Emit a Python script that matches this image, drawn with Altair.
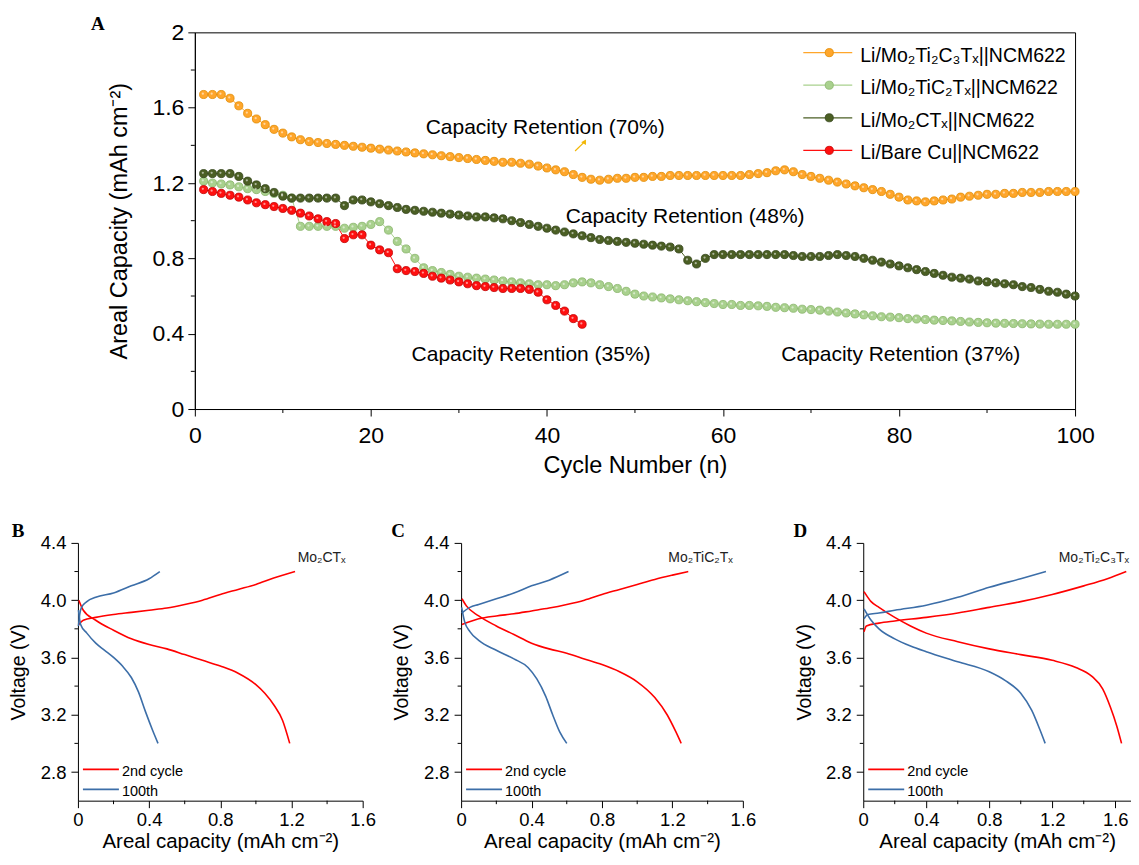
import altair as alt
import pandas as pd

FONT = "Liberation Sans"
SERIF = "Liberation Serif"

# ---------------- Panel A data ----------------
cycles = list(range(1, 101))
cap_mo2ti2c3 = [1.67, 1.67, 1.67, 1.65, 1.61, 1.57, 1.54, 1.51, 1.485, 1.465,
                1.445, 1.43, 1.42, 1.415, 1.41, 1.405, 1.40, 1.395, 1.39, 1.385,
                1.38, 1.375, 1.37, 1.365, 1.36, 1.355, 1.35, 1.345, 1.34, 1.335,
                1.33, 1.325, 1.32, 1.315, 1.31, 1.31, 1.305, 1.30, 1.29, 1.28,
                1.27, 1.26, 1.245, 1.23, 1.22, 1.215, 1.22, 1.225, 1.225, 1.23,
                1.23, 1.235, 1.235, 1.24, 1.24, 1.24, 1.24, 1.24, 1.24, 1.24,
                1.24, 1.24, 1.245, 1.25, 1.255, 1.265, 1.27, 1.26, 1.245, 1.235,
                1.225, 1.215, 1.205, 1.195, 1.185, 1.175, 1.165, 1.155, 1.14, 1.125,
                1.11, 1.105, 1.10, 1.105, 1.11, 1.115, 1.125, 1.13, 1.135, 1.14,
                1.14, 1.145, 1.145, 1.15, 1.15, 1.15, 1.155, 1.155, 1.155, 1.155]
cap_mo2tic2 = [1.21, 1.20, 1.195, 1.19, 1.18, 1.17, 1.165, 1.155, 1.145, 1.135,
               1.12, 0.97, 0.97, 0.97, 0.97, 0.97, 0.96, 0.965, 0.97, 0.98,
               0.995, 0.95, 0.89, 0.85, 0.80, 0.75, 0.735, 0.725, 0.715, 0.705,
               0.70, 0.695, 0.69, 0.685, 0.68, 0.675, 0.67, 0.665, 0.66, 0.66,
               0.655, 0.66, 0.67, 0.675, 0.67, 0.66, 0.65, 0.64, 0.625, 0.61,
               0.60, 0.595, 0.59, 0.585, 0.58, 0.575, 0.57, 0.565, 0.56, 0.555,
               0.555, 0.55, 0.55, 0.548, 0.545, 0.54, 0.538, 0.535, 0.53, 0.528,
               0.525, 0.52, 0.515, 0.51, 0.505, 0.50, 0.495, 0.49, 0.488, 0.485,
               0.48, 0.478, 0.475, 0.472, 0.47, 0.468, 0.465, 0.462, 0.46, 0.458,
               0.456, 0.455, 0.454, 0.453, 0.452, 0.451, 0.45, 0.45, 0.45, 0.45]
cap_mo2ct = [1.25, 1.25, 1.25, 1.25, 1.235, 1.21, 1.19, 1.17, 1.15, 1.13,
             1.12, 1.12, 1.12, 1.12, 1.12, 1.12, 1.08, 1.11, 1.11, 1.10,
             1.09, 1.08, 1.07, 1.06, 1.055, 1.05, 1.045, 1.04, 1.035, 1.03,
             1.025, 1.02, 1.02, 1.015, 1.01, 1.00, 0.99, 0.98, 0.97, 0.96,
             0.95, 0.94, 0.93, 0.92, 0.91, 0.90, 0.895, 0.89, 0.885, 0.88,
             0.875, 0.87, 0.865, 0.86, 0.85, 0.79, 0.77, 0.80, 0.82, 0.82,
             0.82, 0.82, 0.82, 0.82, 0.82, 0.82, 0.82, 0.815, 0.81, 0.81,
             0.81, 0.815, 0.82, 0.815, 0.81, 0.80, 0.79, 0.78, 0.77, 0.76,
             0.75, 0.74, 0.73, 0.72, 0.71, 0.70, 0.695, 0.69, 0.68, 0.675,
             0.67, 0.665, 0.66, 0.65, 0.645, 0.635, 0.625, 0.62, 0.61, 0.60]
cap_bare_cu = [1.165, 1.155, 1.145, 1.135, 1.125, 1.11, 1.095, 1.085, 1.075, 1.065,
               1.055, 1.04, 1.025, 1.01, 0.995, 0.985, 0.905, 0.925, 0.925, 0.87,
               0.845, 0.83, 0.745, 0.735, 0.73, 0.72, 0.705, 0.695, 0.685, 0.675,
               0.665, 0.655, 0.65, 0.645, 0.64, 0.64, 0.64, 0.635, 0.62, 0.58,
               0.55, 0.52, 0.48, 0.45]

series_names = ["Li/Mo₂Ti₂C₃Tₓ||NCM622", "Li/Mo₂TiC₂Tₓ||NCM622",
                "Li/Mo₂CTₓ||NCM622", "Li/Bare Cu||NCM622"]
series_colors = ["#FFA62B", "#A9D18E", "#4B5F24", "#FF1010"]
series_edges = ["#E08A00", "#88B46A", "#33441A", "#C00000"]
series_values = [cap_mo2ti2c3, cap_mo2tic2, cap_mo2ct, cap_bare_cu]

ann_texts = ["Capacity Retention (70%)", "Capacity Retention (48%)",
             "Capacity Retention (35%)", "Capacity Retention (37%)"]
ann_cycle = [39.8, 55.7, 38.2, 80.2]
ann_cap = [1.49, 1.018, 0.288, 0.288]

arrow_cycle = [43.2, 44.3]
arrow_cap = [1.37, 1.42]

top_x_major = [0, 20, 40, 60, 80, 100]
top_x_minor = [10, 30, 50, 70, 90]
top_y_major = [0, 0.4, 0.8, 1.2, 1.6, 2.0]
top_y_minor = [0.2, 0.6, 1.0, 1.4, 1.8]

# ---------------- Panels B-D data ----------------
cycle_names = ["2nd cycle", "100th"]
cycle_colors = ["#FF0000", "#3C6EA8"]

cap_major = [0, 0.4, 0.8, 1.2, 1.6]
cap_minor = [0.2, 0.6, 1.0, 1.4]
volt_major = [2.8, 3.2, 3.6, 4.0, 4.4]
volt_minor = [3.0, 3.4, 3.8, 4.2]

b_2nd_chg_cap = [0.005, 0.03, 0.1, 0.2, 0.3, 0.4, 0.5, 0.6, 0.7, 0.8, 0.9, 1.0, 1.1, 1.22]
b_2nd_chg_v = [3.83, 3.86, 3.88, 3.90, 3.915, 3.93, 3.945, 3.97, 4.00, 4.04, 4.075, 4.11, 4.155, 4.20]
b_2nd_dis_cap = [0.005, 0.03, 0.1, 0.2, 0.3, 0.4, 0.5, 0.6, 0.7, 0.8, 0.9, 1.0, 1.05, 1.1, 1.15, 1.19]
b_2nd_dis_v = [4.00, 3.93, 3.86, 3.79, 3.73, 3.69, 3.66, 3.62, 3.58, 3.54, 3.49, 3.41, 3.35, 3.27, 3.16, 3.00]
b_100_chg_cap = [0.003, 0.01, 0.02, 0.05, 0.1, 0.2, 0.3, 0.4, 0.46]
b_100_chg_v = [3.82, 3.90, 3.95, 3.99, 4.02, 4.05, 4.10, 4.15, 4.20]
b_100_dis_cap = [0.003, 0.015, 0.05, 0.1, 0.15, 0.2, 0.25, 0.3, 0.34, 0.38, 0.42, 0.45]
b_100_dis_v = [3.93, 3.83, 3.77, 3.70, 3.65, 3.60, 3.54, 3.46, 3.36, 3.22, 3.09, 3.00]

c_2nd_chg_cap = [0.005, 0.1, 0.2, 0.3, 0.4, 0.5, 0.6, 0.7, 0.8, 0.9, 1.0, 1.1, 1.2, 1.29]
c_2nd_chg_v = [3.83, 3.87, 3.89, 3.905, 3.925, 3.945, 3.97, 4.00, 4.04, 4.075, 4.11, 4.145, 4.175, 4.20]
c_2nd_dis_cap = [0.005, 0.03, 0.1, 0.2, 0.3, 0.4, 0.5, 0.6, 0.7, 0.8, 0.9, 1.0, 1.1, 1.17, 1.22, 1.25]
c_2nd_dis_v = [4.01, 3.96, 3.89, 3.82, 3.76, 3.70, 3.66, 3.63, 3.59, 3.55, 3.50, 3.43, 3.32, 3.20, 3.08, 3.00]
c_100_chg_cap = [0.003, 0.05, 0.1, 0.2, 0.3, 0.4, 0.5, 0.61]
c_100_chg_v = [3.91, 3.95, 3.97, 4.01, 4.05, 4.10, 4.14, 4.20]
c_100_dis_cap = [0.003, 0.02, 0.05, 0.1, 0.2, 0.3, 0.38, 0.43, 0.48, 0.52, 0.56, 0.6]
c_100_dis_v = [3.95, 3.85, 3.78, 3.72, 3.65, 3.59, 3.53, 3.45, 3.33, 3.20, 3.08, 3.00]

d_2nd_chg_cap = [0.005, 0.02, 0.1, 0.2, 0.4, 0.6, 0.8, 1.0, 1.2, 1.4, 1.55, 1.67]
d_2nd_chg_v = [3.78, 3.82, 3.84, 3.855, 3.88, 3.91, 3.95, 3.99, 4.04, 4.10, 4.15, 4.20]
d_2nd_dis_cap = [0.005, 0.05, 0.1, 0.2, 0.3, 0.4, 0.6, 0.8, 1.0, 1.2, 1.35, 1.45, 1.52, 1.57, 1.61, 1.64]
d_2nd_dis_v = [4.06, 3.99, 3.95, 3.88, 3.82, 3.77, 3.71, 3.66, 3.62, 3.58, 3.53, 3.47, 3.38, 3.25, 3.12, 3.00]
d_100_chg_cap = [0.005, 0.03, 0.1, 0.2, 0.4, 0.6, 0.8, 1.0, 1.16]
d_100_chg_v = [3.87, 3.90, 3.91, 3.93, 3.965, 4.02, 4.09, 4.15, 4.20]
d_100_dis_cap = [0.005, 0.05, 0.1, 0.2, 0.3, 0.4, 0.6, 0.8, 0.9, 1.0, 1.07, 1.12, 1.155]
d_100_dis_v = [3.94, 3.86, 3.80, 3.73, 3.68, 3.64, 3.57, 3.50, 3.44, 3.35, 3.23, 3.10, 3.00]

# ---------------- Panel A chart ----------------
TW, TH = 881, 377
rows = []
for name, vals in zip(series_names, series_values):
    for c, v in zip(cycles, vals):
        rows.append({"cycle": c, "cap": v, "series": name})
cyc_df = pd.DataFrame(rows)

x_top = alt.X("cycle:Q", scale=alt.Scale(domain=[0, 100], nice=False),
              axis=alt.Axis(values=top_x_major, title="Cycle Number (n)", labelFontSize=23,
                            titleFontSize=23.5, tickSize=7, labelPadding=8.5, titlePadding=6.5,
                            labelFlush=False))
y_top = alt.Y("cap:Q", scale=alt.Scale(domain=[0, 2], nice=False),
              axis=alt.Axis(values=top_y_major,
                            labelExpr="datum.value == 0 ? '0' : (datum.value == 2 ? '2' : format(datum.value, '.1f'))",
                            title="Areal Capacity (mAh cm⁻²)", labelFontSize=23, titleFontSize=23.5,
                            tickSize=7, labelPadding=4, titlePadding=20, labelFlush=False))
color_top = alt.Color("series:N", scale=alt.Scale(domain=series_names, range=series_colors), legend=None)
stroke_top = alt.Stroke("series:N", scale=alt.Scale(domain=series_names, range=series_edges), legend=None)

lines = alt.Chart(cyc_df).mark_line(strokeWidth=1).encode(
    x=x_top, y=y_top, color=color_top, detail="series:N")
points = alt.Chart(cyc_df).mark_circle(size=66, opacity=1, strokeWidth=0.8).encode(
    x="cycle:Q", y="cap:Q", color=color_top, stroke=stroke_top)
shine = alt.Chart(cyc_df).mark_circle(size=5, opacity=0.55, color="white", xOffset=-0.8, yOffset=-0.8).encode(
    x="cycle:Q", y="cap:Q")

minor_x_top = alt.Chart(pd.DataFrame({"cycle": top_x_minor})).mark_rule(color="black", strokeWidth=1).encode(
    x="cycle:Q", y=alt.value(TH), y2=alt.value(TH + 4))
minor_y_top = alt.Chart(pd.DataFrame({"cap": top_y_minor})).mark_rule(color="black", strokeWidth=1).encode(
    y="cap:Q", x=alt.value(-4), x2=alt.value(0))

ann_df = pd.DataFrame({"text": ann_texts, "cycle": ann_cycle, "cap": ann_cap})
ann = alt.Chart(ann_df).mark_text(fontSize=21, font=FONT, color="black").encode(
    x="cycle:Q", y="cap:Q", text="text:N")

arrow_df = pd.DataFrame({"cycle": arrow_cycle, "cap": arrow_cap})
arrow_line = alt.Chart(arrow_df).mark_line(color="#F2B705", strokeWidth=1.2).encode(
    x="cycle:Q", y="cap:Q")
arrow_head = alt.Chart(arrow_df.tail(1)).mark_point(
    shape="triangle-up", filled=True, size=30, angle=30, color="#F2B705", opacity=1).encode(
    x="cycle:Q", y="cap:Q")

legend_layers = []
for i, (name, col, edge) in enumerate(zip(series_names, series_colors, series_edges)):
    vy = 20.3 + 32.6 * i
    d = pd.DataFrame({"label": [name]})
    legend_layers.append(alt.Chart(d).mark_rule(color=col, strokeWidth=1.2).encode(
        x=alt.value(609), x2=alt.value(658), y=alt.value(vy)))
    legend_layers.append(alt.Chart(d).mark_circle(size=66, color=col, opacity=1, stroke=edge,
                                                  strokeWidth=0.8).encode(
        x=alt.value(635), y=alt.value(vy)))
    legend_layers.append(alt.Chart(d).mark_text(align="left", baseline="middle", fontSize=19.5,
                                                font=FONT, color="black").encode(
        x=alt.value(666), y=alt.value(vy + 3), text="label:N"))

letter_a = alt.Chart(pd.DataFrame({"t": ["A"]})).mark_text(
    font=SERIF, fontWeight="bold", fontSize=19, align="center", baseline="middle", color="black").encode(
    x=alt.value(-97), y=alt.value(-8), text="t:N")

top = alt.layer(lines, points, shine, minor_x_top, minor_y_top, ann, arrow_line, arrow_head,
                *legend_layers, letter_a,
                view=alt.ViewBackground(stroke="black", strokeWidth=1)).properties(width=TW, height=TH)

# empty cell that pushes panel A to the right of panel B's origin
spacer = alt.Chart(pd.DataFrame({"t": [""]})).mark_text().encode(text="t:N").properties(width=12, height=TH)
top_row = alt.hconcat(spacer, top, spacing=0).resolve_scale(color="independent", stroke="independent")

# ---------------- Panels B-D ----------------
PH = 258


def panel(letter, letter_x, label, curves, xmax, width, label_right, spacer_x=None):
    prow = []
    for cyc, branch, caps, volts in curves:
        for k, (c, v) in enumerate(zip(caps, volts)):
            prow.append({"cap": c, "volt": v, "cycle": cyc, "branch": branch, "k": k})
    df = pd.DataFrame(prow)
    x = alt.X("cap:Q", scale=alt.Scale(domain=[0, xmax], nice=False),
              axis=alt.Axis(values=cap_major,
                            labelExpr="datum.value == 0 ? '0' : format(datum.value, '.1f')",
                            title="Areal capacity (mAh cm⁻²)", labelFontSize=18.5, titleFontSize=20.5,
                            tickSize=7, labelPadding=3, titlePadding=2, labelFlush=False))
    y = alt.Y("volt:Q", scale=alt.Scale(domain=[2.6, 4.4], nice=False, zero=False),
              axis=alt.Axis(values=volt_major, format=".1f",
                            title="Voltage (V)", labelFontSize=18.5, titleFontSize=19.5,
                            tickSize=7, labelPadding=5, titlePadding=11.5, labelFlush=False))
    line = alt.Chart(df).mark_line(strokeWidth=1.6, interpolate="monotone").encode(
        x=x, y=y,
        color=alt.Color("cycle:N", scale=alt.Scale(domain=cycle_names, range=cycle_colors), legend=None),
        detail="branch:N", order="k:Q")
    layers = [line]
    layers.append(alt.Chart(pd.DataFrame({"cap": cap_minor})).mark_rule(color="black", strokeWidth=1).encode(
        x="cap:Q", y=alt.value(PH), y2=alt.value(PH + 3.5)))
    layers.append(alt.Chart(pd.DataFrame({"volt": volt_minor})).mark_rule(color="black", strokeWidth=1).encode(
        y="volt:Q", x=alt.value(-3.5), x2=alt.value(0)))
    for i, (name, col) in enumerate(zip(cycle_names, cycle_colors)):
        vy = PH - 31.3 + 20 * i
        d = pd.DataFrame({"label": [name]})
        layers.append(alt.Chart(d).mark_rule(color=col, strokeWidth=1.6).encode(
            x=alt.value(5), x2=alt.value(41), y=alt.value(vy)))
        layers.append(alt.Chart(d).mark_text(align="left", baseline="middle", fontSize=14.5,
                                             font=FONT, color="black").encode(
            x=alt.value(44), y=alt.value(vy + 2.5), text="label:N"))
    layers.append(alt.Chart(pd.DataFrame({"t": [label]})).mark_text(
        align="right", baseline="middle", fontSize=14, font=FONT, color="#222").encode(
        x=alt.value(width - label_right), y=alt.value(15), text="t:N"))
    layers.append(alt.Chart(pd.DataFrame({"t": [letter]})).mark_text(
        font=SERIF, fontWeight="bold", fontSize=19, align="center", baseline="middle", color="black").encode(
        x=alt.value(letter_x), y=alt.value(-12), text="t:N"))
    if spacer_x is not None:
        layers.append(alt.Chart(pd.DataFrame({"t": ["."]})).mark_text(
            fontSize=10, align="left", baseline="middle", color="white").encode(
            x=alt.value(spacer_x), y=alt.value(100), text="t:N"))
    return alt.layer(*layers).properties(width=width, height=PH)


pB = panel("B", -60, "Mo₂CTₓ", [
    ("2nd cycle", "chg", b_2nd_chg_cap, b_2nd_chg_v),
    ("2nd cycle", "dis", b_2nd_dis_cap, b_2nd_dis_v),
    ("100th", "chg", b_100_chg_cap, b_100_chg_v),
    ("100th", "dis", b_100_dis_cap, b_100_dis_v)], 1.6, 285, 17)
pC = panel("C", -63, "Mo₂TiC₂Tₓ", [
    ("2nd cycle", "chg", c_2nd_chg_cap, c_2nd_chg_v),
    ("2nd cycle", "dis", c_2nd_dis_cap, c_2nd_dis_v),
    ("100th", "chg", c_100_chg_cap, c_100_chg_v),
    ("100th", "dis", c_100_dis_cap, c_100_dis_v)], 1.6, 282, 10)
pD = panel("D", -63, "Mo₂Ti₂C₃Tₓ", [
    ("2nd cycle", "chg", d_2nd_chg_cap, d_2nd_chg_v),
    ("2nd cycle", "dis", d_2nd_dis_cap, d_2nd_dis_v),
    ("100th", "chg", d_100_chg_cap, d_100_chg_v),
    ("100th", "dis", d_100_dis_cap, d_100_dis_v)], 1.7, 268, 2, spacer_x=-92)

bottom = alt.hconcat(pB, pC, pD, spacing=15.5).resolve_scale(color="independent")

chart = alt.vconcat(top_row, bottom, spacing=44).resolve_scale(
    color="independent", stroke="independent").properties(
    padding={"left": 0, "top": 6, "right": 0, "bottom": 0}).configure_view(
    stroke=None).configure_axis(
    grid=False, domainColor="black", tickColor="black", labelColor="black", titleColor="black",
    labelFont=FONT, titleFont=FONT, titleFontWeight="normal", domainWidth=1, tickWidth=1)

chart.save("out.html", embed_options={"renderer": "svg", "actions": False})
